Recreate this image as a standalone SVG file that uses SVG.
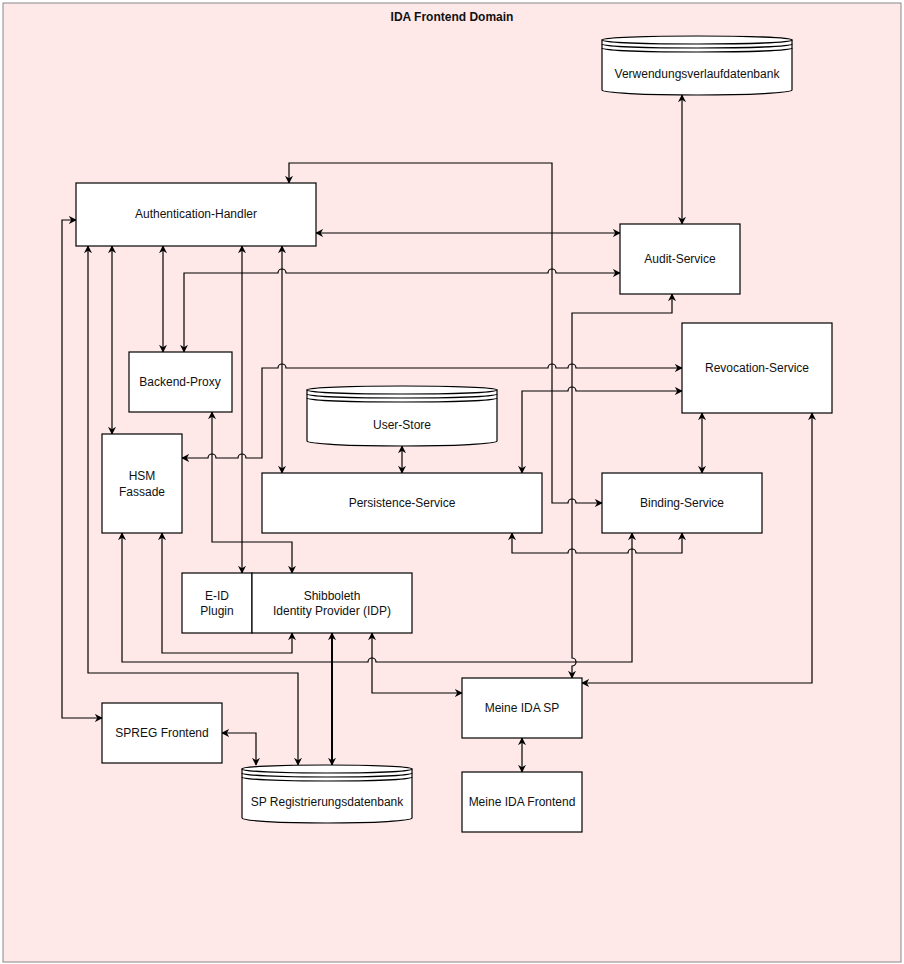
<svg xmlns="http://www.w3.org/2000/svg" width="904" height="964" viewBox="0 0 904 964">
<style>
.n{fill:#fff;stroke:#000;stroke-width:1.2}
.t{font-family:"Liberation Sans",Arial,sans-serif;font-size:12px;fill:#111;text-anchor:middle}
.c{fill:none;stroke:#000;stroke-width:1.2}
.c2{fill:none;stroke:#000;stroke-width:2}
</style>
<defs>
<marker id="a" viewBox="0 0 10 10" refX="9" refY="5" markerWidth="8" markerHeight="8" markerUnits="userSpaceOnUse" orient="auto-start-reverse"><path d="M0,0 L10,5 L0,10 L3,5 Z" fill="#000"/></marker>
</defs>
<rect x="3" y="3" width="898" height="959" fill="#fee8e8" stroke="#888"/>
<text x="452" y="21" class="t" font-weight="bold">IDA Frontend Domain</text>
<g id="connectors">
<path class="c" marker-start="url(#a)" marker-end="url(#a)" d="M682,95 V224"/>
<path class="c" marker-start="url(#a)" marker-end="url(#a)" d="M289,183 V163 H552 V503 H568 a4,4 0 0 1 8,0 H602"/>
<path class="c" marker-start="url(#a)" marker-end="url(#a)" d="M316,233 H620"/>
<path class="c" marker-start="url(#a)" marker-end="url(#a)" d="M184,352 V273 H278 a4,4 0 0 1 8,0 H548 a4,4 0 0 1 8,0 H620"/>
<path class="c" marker-start="url(#a)" marker-end="url(#a)" d="M163,246 V352"/>
<path class="c" marker-start="url(#a)" marker-end="url(#a)" d="M112,246 V434"/>
<path class="c" marker-start="url(#a)" marker-end="url(#a)" d="M88,246 V673 H298 V765"/>
<path class="c" marker-start="url(#a)" marker-end="url(#a)" d="M242,246 V573"/>
<path class="c" marker-start="url(#a)" marker-end="url(#a)" d="M282,246 V473"/>
<path class="c" marker-start="url(#a)" marker-end="url(#a)" d="M76,220 H62 V718 H102"/>
<path class="c" marker-start="url(#a)" marker-end="url(#a)" d="M182,458 H208 a4,4 0 0 1 8,0 H238 a4,4 0 0 1 8,0 H262 V368 H278 a4,4 0 0 1 8,0 H548 a4,4 0 0 1 8,0 H568 a4,4 0 0 1 8,0 H682"/>
<path class="c" marker-start="url(#a)" marker-end="url(#a)" d="M212,412 V542 H292 V573"/>
<path class="c" marker-start="url(#a)" marker-end="url(#a)" d="M402,446 V473"/>
<path class="c" marker-start="url(#a)" marker-end="url(#a)" d="M522,473 V391 H568 a4,4 0 0 1 8,0 H682"/>
<path class="c" marker-start="url(#a)" marker-end="url(#a)" d="M672,294 V313 H572 V658 a4,4 0 0 1 0,8 V678"/>
<path class="c" marker-start="url(#a)" marker-end="url(#a)" d="M702,413 V473"/>
<path class="c" marker-start="url(#a)" marker-end="url(#a)" d="M512,533 V553 H568 a4,4 0 0 1 8,0 H628 a4,4 0 0 1 8,0 H682 V533"/>
<path class="c" marker-start="url(#a)" marker-end="url(#a)" d="M632,533 V662 H376 a4,4 0 0 0 -8,0 H122 V533"/>
<path class="c" marker-start="url(#a)" marker-end="url(#a)" d="M162,533 V653 H292 V633"/>
<path class="c2" marker-start="url(#a)" marker-end="url(#a)" d="M332,633 V765"/>
<path class="c" marker-start="url(#a)" marker-end="url(#a)" d="M372,633 V693 H462"/>
<path class="c" marker-start="url(#a)" marker-end="url(#a)" d="M812,413 V683 H582"/>
<path class="c" marker-start="url(#a)" marker-end="url(#a)" d="M222,733 H256 V765"/>
<path class="c" marker-start="url(#a)" marker-end="url(#a)" d="M522,738 V772"/>
</g>
<g id="verwendung">
<path class="n" d="M602,40 V90 A95,5 0 0 0 792,90 V40 Z"/>
<ellipse class="n" cx="697" cy="40" rx="95" ry="4"/>
<path class="c" d="M602,44 A95,4 0 0 0 792,44 M602,48 A95,4 0 0 0 792,48"/>
<text class="t" x="697" y="78">Verwendungsverlaufdatenbank</text>
</g>
<g id="auth"><rect class="n" x="76" y="183" width="240" height="63"/><text class="t" x="196" y="218">Authentication-Handler</text></g>
<g id="audit"><rect class="n" x="620" y="224" width="120" height="70"/><text class="t" x="680" y="263">Audit-Service</text></g>
<g id="revocation"><rect class="n" x="682" y="323" width="150" height="90"/><text class="t" x="757" y="372">Revocation-Service</text></g>
<g id="backend"><rect class="n" x="129" y="352" width="103" height="60"/><text class="t" x="180" y="386">Backend-Proxy</text></g>
<g id="userstore">
<path class="n" d="M307,390 V441 A95,5 0 0 0 497,441 V390 Z"/>
<ellipse class="n" cx="402" cy="390" rx="95" ry="4"/>
<path class="c" d="M307,394 A95,4 0 0 0 497,394 M307,398 A95,4 0 0 0 497,398"/>
<text class="t" x="402" y="429">User-Store</text>
</g>
<g id="hsm"><rect class="n" x="102" y="434" width="80" height="99"/><text class="t" x="142" y="480">HSM</text><text class="t" x="142" y="496">Fassade</text></g>
<g id="persistence"><rect class="n" x="262" y="473" width="280" height="60"/><text class="t" x="402" y="507">Persistence-Service</text></g>
<g id="binding"><rect class="n" x="602" y="473" width="160" height="60"/><text class="t" x="682" y="507">Binding-Service</text></g>
<g id="eid"><rect class="n" x="182" y="573" width="70" height="60"/><text class="t" x="217" y="600">E-ID</text><text class="t" x="217" y="615">Plugin</text></g>
<g id="shibboleth"><rect class="n" x="252" y="573" width="160" height="60"/><text class="t" x="332" y="600">Shibboleth</text><text class="t" x="332" y="615">Identity Provider (IDP)</text></g>
<g id="meinesp"><rect class="n" x="462" y="678" width="120" height="60"/><text class="t" x="522" y="712">Meine IDA SP</text></g>
<g id="spreg"><rect class="n" x="102" y="703" width="120" height="60"/><text class="t" x="162" y="737">SPREG Frontend</text></g>
<g id="spregdb">
<path class="n" d="M242,769 V818 A85,5 0 0 0 412,818 V769 Z"/>
<ellipse class="n" cx="327" cy="769" rx="85" ry="4"/>
<path class="c" d="M242,773 A85,4 0 0 0 412,773 M242,777 A85,4 0 0 0 412,777"/>
<text class="t" x="327" y="806">SP Registrierungsdatenbank</text>
</g>
<g id="meinefrontend"><rect class="n" x="462" y="772" width="120" height="60"/><text class="t" x="522" y="806">Meine IDA Frontend</text></g>
</svg>
